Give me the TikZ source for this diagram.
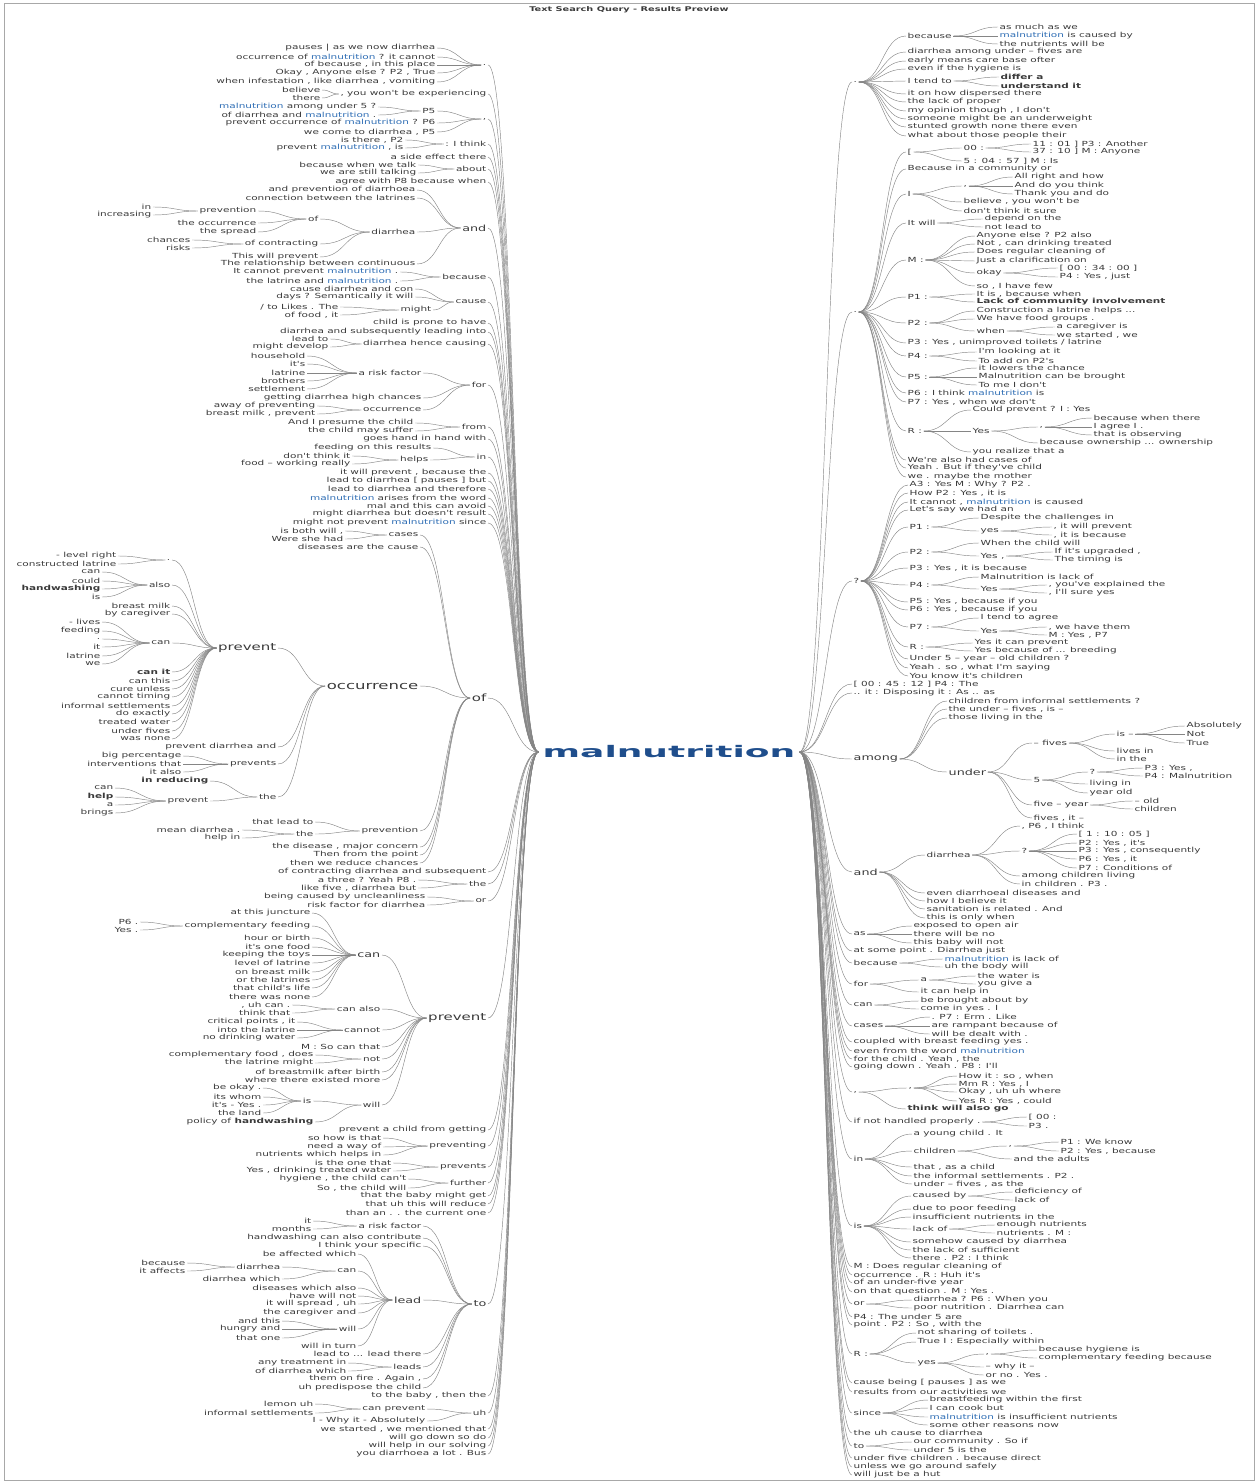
\documentclass[tikz,border=0pt]{standalone}
\usepackage{fontspec}
\setmainfont{DejaVu Sans}
\newfontfamily\treefont[FakeStretch=1.5]{DejaVu Sans}
\newfontfamily\hubfont[FakeStretch=2.25]{DejaVu Sans}
\usetikzlibrary{calc}
\definecolor{cHub}{HTML}{1F4E8C}
\definecolor{cMal}{HTML}{2E6DB4}
\definecolor{cLink}{HTML}{858585}
\definecolor{cText}{HTML}{3A3A3A}
\definecolor{cFrame}{HTML}{A8A8A8}
\newcommand\malw{\textcolor{cMal}{malnutrition}}
% children on the left of a parent: #2 parent, #3 right edge, #4 y/text list
\newcommand\kidsL[4][leaf]{%
  \foreach \yy/\txt [count=\k] in {#4}{
    \node[#1, anchor=east] (#2-l\k) at (#3,\yy) {\txt};
    \draw[twig] (#2-l\k.east) to[hc] (#2.west);
  }}
% children on the right of a parent: #2 parent, #3 left edge, #4 y/text list
\newcommand\kidsR[4][leaf]{%
  \foreach \yy/\txt [count=\k] in {#4}{
    \node[#1, anchor=west] (#2-r\k) at (#3,\yy) {\txt};
    \draw[twig] (#2.east) to[hc] (#2-r\k.west);
  }}

\begin{document}
\begin{tikzpicture}[x=1pt, y=-1pt,
  leaf/.style={font=\fontsize{7}{8}\treefont, text=cText, inner sep=1.5pt},
  midword/.style={leaf, font=\fontsize{8.5}{9}\treefont},
  bigword/.style={leaf, font=\fontsize{10}{11}\treefont},
  topword/.style={leaf, font=\fontsize{11}{12}\treefont},
  lft/.style={anchor=east},
  rgt/.style={anchor=west},
  twig/.style={draw=cLink, line width=0.45pt},
  hc/.style={to path={let \p1=(\tikztostart), \p2=(\tikztotarget),
      \n1={0.5*(\x2-\x1)} in
      .. controls (\x1+\n1,\y1) and (\x2-\n1,\y2) .. (\p2)}},
]
\useasboundingbox (0,0) rectangle (1259,1482);
\draw[cFrame, line width=0.8pt] (4,3) rectangle (1254,1480);
\node[font=\fontsize{6.5}{7}\treefont\bfseries, text=cText] (title) at (629,10)
  {Text Search Query - Results Preview};

\node[font=\fontsize{16}{18}\hubfont\bfseries, text=cHub, inner sep=4pt] (hub) at (669,752)
  {malnutrition};

% ---------- left side ----------
\node[leaf,lft] (lDot) at (488,65) {.};
\node[leaf,lft] (lWont) at (488,94) {, you won't be experiencing};
\node[leaf,lft] (lComma) at (488,119) {,};
\node[leaf,lft] (lP5) at (437,111) {P5};
\node[leaf,lft] (lThink) at (488,144) {: I think};
\node[leaf,lft] (lAbout) at (488,169) {about};
\node[midword,lft] (lAnd) at (488,228) {and};
\node[leaf,lft] (lAndDia) at (417,232) {diarrhea};
\node[leaf,lft] (lDiaOf) at (320,219) {of};
\node[leaf,lft] (lOfPrev) at (258,211) {prevention};
\node[leaf,lft] (lDiaContr) at (320,244) {of contracting};
\node[leaf,lft] (lBecause) at (488,277) {because};
\node[leaf,lft] (lCause) at (488,302) {cause};
\node[leaf,lft] (lMight) at (433,310) {might};
\node[leaf,lft] (lHence) at (488,344) {diarrhea hence causing};
\node[leaf,lft] (lFor) at (488,385) {for};
\node[leaf,lft] (lRisk) at (423,373) {a risk factor};
\node[leaf,lft] (lOccA) at (423,410) {occurrence};
\node[leaf,lft] (lFrom) at (488,427) {from};
\node[leaf,lft] (lIn) at (488,457) {in};
\node[leaf,lft] (lHelps) at (430,460) {helps};
\node[bigword,lft] (lOf) at (488,698) {of};
\node[leaf,lft] (lCases) at (420,535) {cases};
\node[topword,lft] (lOcc) at (420,686) {occurrence};
\node[bigword,lft] (lPrevA) at (278,648) {prevent};
\node[leaf,lft] (lPaDot) at (172,560) {.};
\node[leaf,lft] (lPaAlso) at (172,585) {also};
\node[leaf,lft] (lPaCan) at (172,643) {can};
\node[leaf,lft] (lPrevs) at (278,764) {prevents};
\node[leaf,lft] (lThe) at (278,797) {the};
\node[leaf,lft] (lThePrev) at (210,801) {prevent};
\node[leaf,lft] (lPrevtn) at (420,831) {prevention};
\node[leaf,lft] (lPtThe) at (315,834) {the};
\node[leaf,lft] (lThe2) at (488,884) {the};
\node[leaf,lft] (lOr) at (488,901) {or};
\node[bigword,lft] (lPrevB) at (488,1018) {prevent};
\node[midword,lft] (lPbCan) at (382,955) {can};
\node[leaf,lft] (lPbComp) at (312,926) {complementary feeding};
\node[leaf,lft] (lPbAlso) at (382,1009) {can also};
\node[leaf,lft] (lPbCannot) at (382,1030) {cannot};
\node[leaf,lft] (lPbNot) at (382,1059) {not};
\node[leaf,lft] (lPbWill) at (382,1105) {will};
\node[leaf,lft] (lPbIs) at (313,1101) {is};
\node[leaf,lft] (lPreving) at (488,1146) {preventing};
\node[leaf,lft] (lPrevsB) at (488,1167) {prevents};
\node[leaf,lft] (lFurther) at (488,1183) {further};
\node[midword,lft] (lTo) at (488,1304) {to};
\node[leaf,lft] (lToRisk) at (423,1226) {a risk factor};
\node[midword,lft] (lLead) at (423,1300) {lead};
\node[leaf,lft] (lLeadCan) at (358,1271) {can};
\node[leaf,lft] (lLcDia) at (282,1267) {diarrhea};
\node[leaf,lft] (lLeadWill) at (358,1329) {will};
\node[leaf,lft] (lLeads) at (423,1367) {leads};
\node[leaf,lft] (lUh) at (488,1413) {uh};
\node[leaf,lft] (lUhCan) at (427,1409) {can prevent};

\foreach \a/\b in {lDot/hub, lWont/hub, lComma/hub, lP5/lComma, lThink/hub,
    lAbout/hub, lAnd/hub, lAndDia/lAnd, lDiaOf/lAndDia, lOfPrev/lDiaOf,
    lDiaContr/lAndDia, lBecause/hub, lCause/hub, lMight/lCause, lHence/hub,
    lFor/hub, lRisk/lFor, lOccA/lFor, lFrom/hub, lIn/hub, lHelps/lIn,
    lOf/hub, lCases/lOf, lOcc/lOf, lPrevA/lOcc, lPaDot/lPrevA, lPaAlso/lPrevA,
    lPaCan/lPrevA, lPrevs/lOcc, lThe/lOcc, lThePrev/lThe, lPrevtn/lOf,
    lPtThe/lPrevtn, lThe2/hub, lOr/hub, lPrevB/hub, lPbCan/lPrevB,
    lPbComp/lPbCan, lPbAlso/lPrevB, lPbCannot/lPrevB, lPbNot/lPrevB,
    lPbWill/lPrevB, lPbIs/lPbWill, lPreving/hub, lPrevsB/hub, lFurther/hub,
    lTo/hub, lToRisk/lTo, lLead/lTo, lLeadCan/lLead, lLcDia/lLeadCan,
    lLeadWill/lLead, lLeads/lTo, lUh/hub, lUhCan/lUh}
  \draw[twig] (\a.east) to[hc] (\b.west);

\kidsL{lDot}{437}{48/{pauses | as we now diarrhea}, 57/{occurrence of \malw{} ? it cannot},
  65/{of because , in this place}, 73/{Okay , Anyone else ? P2 , True},
  82/{when infestation , like diarrhea , vomiting}}
\kidsL{lWont}{322}{90/believe, 98/there}
\kidsL{lComma}{437}{123/{prevent occurrence of \malw{} ? P6}, 132/{we come to diarrhea , P5}}
\kidsL{lP5}{378}{107/{\malw{} among under 5 ?}, 115/{of diarrhea and \malw{} .}}
\kidsL{lThink}{405}{140/{is there , P2}, 148/{prevent \malw{} , is}}
\kidsL{hub}{488}{157/{a side effect there}, 182/{agree with P8 because when},
  323/{child is prone to have}, 332/{diarrhea and subsequently leading into},
  439/{goes hand in hand with}, 473/{it will prevent , because the},
  481/{lead to diarrhea [ pauses ] but}, 489/{lead to diarrhea and therefore},
  498/{\malw{} arises from the word}, 506/{mal and this can avoid},
  514/{might diarrhea but doesn't result}, 523/{might not prevent \malw{} since},
  872/{of contracting diarrhea and subsequent}, 1130/{prevent a child from getting},
  1196/{that the baby might get}, 1204/{that uh this will reduce},
  1213/{than an . . the current one}, 1396/{to the baby , then the},
  1429/{we started , we mentioned that}, 1438/{will go down so do},
  1446/{will help in our solving}, 1454/{you diarrhoea a lot . Bus}}
\kidsL{lAbout}{418}{165/{because when we talk}, 173/{we are still talking}}
\kidsL{lAnd}{417}{190/{and prevention of diarrhoea}, 198/{connection between the latrines},
  264/{The relationship between continuous}}
\kidsL{lAndDia}{320}{257/{This will prevent}}
\kidsL{lDiaOf}{258}{223/{the occurrence}, 232/{the spread}}
\kidsL{lOfPrev}{153}{207/in, 215/increasing}
\kidsL{lDiaContr}{192}{240/chances, 248/risks}
\kidsL{lBecause}{400}{272/{It cannot prevent \malw{} .}, 281/{the latrine and \malw{} .}}
\kidsL{lCause}{415}{289/{cause diarrhea and con}, 297/{days ? Semantically it will}}
\kidsL{lMight}{340}{307/{/ to Likes . The}, 315/{of food , it}}
\kidsL{lHence}{330}{339/{lead to}, 347/{might develop}}
\kidsL{lFor}{423}{398/{getting diarrhea high chances}}
\kidsL{lRisk}{307}{356/household, 364/{it's}, 373/latrine, 381/brothers, 389/settlement}
\kidsL{lOccA}{317}{406/{away of preventing}, 414/{breast milk , prevent}}
\kidsL{lFrom}{415}{423/{And I presume the child}, 431/{the child may suffer}}
\kidsL{lIn}{433}{448/{feeding on this results}}
\kidsL{lHelps}{352}{456/{don't think it}, 464/{food – working really}}
\kidsL{lOf}{420}{547/{diseases are the cause}, 847/{the disease , major concern},
  855/{Then from the point}, 863/{then we reduce chances}}
\kidsL{lCases}{345}{531/{is both will ,}, 539/{Were she had}}
\kidsL{lOcc}{278}{747/{prevent diarrhea and}}
\kidsL{lPrevA}{172}{606/{breast milk}, 614/{by caregiver}, 672/{\bfseries can it},
  681/{can this}, 689/{cure unless}, 697/{cannot timing}, 706/{informal settlements},
  714/{do exactly}, 722/{treated water}, 731/{under fives}, 739/{was none}}
\kidsL{lPaDot}{118}{556/{- level right}, 564/{constructed latrine}}
\kidsL{lPaAlso}{102}{572/can, 581/could, 589/{\bfseries handwashing}, 597/is}
\kidsL{lPaCan}{102}{622/{- lives}, 631/feeding, 639/{.}, 647/it, 656/latrine, 664/we}
\kidsL{lPrevs}{183}{756/{big percentage}, 764/{interventions that}, 772/{it also}}
\kidsL{lThe}{210}{781/{\bfseries in reducing}}
\kidsL{lThePrev}{115}{788/can, 797/{\bfseries help}, 805/a, 813/brings}
\kidsL{lPrevtn}{315}{822/{that lead to}}
\kidsL{lPtThe}{242}{830/{mean diarrhea .}, 838/{help in}}
\kidsL{lThe2}{418}{880/{a three ? Yeah P8 .}, 888/{like five , diarrhea but}}
\kidsL{lOr}{427}{897/{being caused by uncleanliness}, 905/{risk factor for diarrhea}}
\kidsL{lPrevB}{382}{1047/{M : So can that}, 1072/{of breastmilk after birth},
  1080/{where there existed more}}
\kidsL{lPbCan}{312}{913/{at this juncture}, 938/{hour or birth}, 947/{it's one food},
  955/{keeping the toys}, 963/{level of latrine}, 972/{on breast milk},
  980/{or the latrines}, 988/{that child's life}, 997/{there was none}}
\kidsL{lPbComp}{140}{922/{P6 .}, 930/{Yes .}}
\kidsL{lPbAlso}{292}{1005/{, uh can .}, 1013/{think that}}
\kidsL{lPbCannot}{297}{1022/{critical points , it}, 1030/{into the latrine}, 1038/{no drinking water}}
\kidsL{lPbNot}{315}{1055/{complementary food , does}, 1063/{the latrine might}}
\kidsL{lPbWill}{315}{1122/{policy of \textbf{handwashing}}}
\kidsL{lPbIs}{263}{1088/{be okay .}, 1097/{its whom}, 1105/{it's - Yes .}, 1113/{the land}}
\kidsL{lPreving}{383}{1138/{so how is that}, 1147/{need a way of}, 1155/{nutrients which helps in}}
\kidsL{lPrevsB}{393}{1163/{is the one that}, 1171/{Yes , drinking treated water}}
\kidsL{lFurther}{408}{1179/{hygiene , the child can't}, 1188/{So , the child will}}
\kidsL{lTo}{423}{1238/{handwashing can also contribute}, 1246/{I think your specific},
  1354/{lead to ... lead there}, 1379/{them on fire . Again ,}, 1388/{uh predispose the child}}
\kidsL{lToRisk}{313}{1221/it, 1229/months}
\kidsL{lLead}{358}{1254/{be affected which}, 1288/{diseases which also}, 1296/{have will not},
  1304/{it will spread , uh}, 1313/{the caregiver and}, 1346/{will in turn}}
\kidsL{lLeadCan}{282}{1279/{diarrhea which}}
\kidsL{lLcDia}{187}{1263/because, 1271/{it affects}}
\kidsL{lLeadWill}{282}{1321/{and this}, 1329/{hungry and}, 1338/{that one}}
\kidsL{lLeads}{348}{1363/{any treatment in}, 1371/{of diarrhea which}}
\kidsL{lUh}{427}{1421/{I - Why it - Absolutely}}
\kidsL{lUhCan}{315}{1404/{lemon uh}, 1413/{informal settlements}}

% ---------- right side ----------
\node[leaf,rgt] (rDotA) at (852,82) {.};
\node[leaf,rgt] (rBec) at (906,36) {because};
\node[leaf,rgt] (rTend) at (906,81) {I tend to};
\node[leaf,rgt] (rDotB) at (852,312) {.};
\node[leaf,rgt] (rBrk) at (906,152) {[};
\node[leaf,rgt] (rBrk00) at (962,148) {00 :};
\node[leaf,rgt] (rI) at (906,194) {I};
\node[leaf,rgt] (rIc) at (962,186) {,};
\node[leaf,rgt] (rWill) at (906,223) {It will};
\node[leaf,rgt] (rM) at (906,260) {M :};
\node[leaf,rgt] (rMok) at (975,273) {okay};
\node[leaf,rgt] (rP1) at (906,297) {P1 :};
\node[leaf,rgt] (rP2) at (906,323) {P2 :};
\node[leaf,rgt] (rP2when) at (975,331) {when};
\node[leaf,rgt] (rP4) at (906,356) {P4 :};
\node[leaf,rgt] (rP5) at (906,377) {P5 :};
\node[leaf,rgt] (rR) at (906,431) {R :};
\node[leaf,rgt] (rRyes) at (971,431) {Yes};
\node[leaf,rgt] (rRyc) at (1038,427) {,};
\node[leaf,rgt] (rQ) at (852,581) {?};
\node[leaf,rgt] (rQp1) at (908,527) {P1 :};
\node[leaf,rgt] (rQp1y) at (979,531) {yes};
\node[leaf,rgt] (rQp2) at (908,552) {P2 :};
\node[leaf,rgt] (rQp2y) at (979,556) {Yes ,};
\node[leaf,rgt] (rQp4) at (908,585) {P4 :};
\node[leaf,rgt] (rQp4y) at (979,589) {Yes};
\node[leaf,rgt] (rQp7) at (908,627) {P7 :};
\node[leaf,rgt] (rQp7y) at (979,631) {Yes};
\node[leaf,rgt] (rQr) at (908,647) {R :};
\node[midword,rgt] (rAmong) at (852,759) {among};
\node[midword,rgt] (rUnder) at (947,772) {under};
\node[leaf,rgt] (rFives) at (1032,743) {– fives};
\node[leaf,rgt] (rFivesIs) at (1115,734) {is –};
\node[leaf,rgt] (rFive) at (1032,780) {5};
\node[leaf,rgt] (rFiveQ) at (1088,772) {?};
\node[leaf,rgt] (rFiveYr) at (1032,805) {five – year};
\node[midword,rgt] (rAnd) at (852,872) {and};
\node[leaf,rgt] (rAndDia) at (925,855) {diarrhea};
\node[leaf,rgt] (rAdQ) at (1020,851) {?};
\node[leaf,rgt] (rAs) at (852,934) {as};
\node[leaf,rgt] (rBecause) at (852,963) {because};
\node[leaf,rgt] (rFor) at (852,984) {for};
\node[leaf,rgt] (rForA) at (919,980) {a};
\node[leaf,rgt] (rCan) at (852,1005) {can};
\node[leaf,rgt] (rCases) at (852,1026) {cases};
\node[leaf,rgt] (rComma) at (852,1092) {,};
\node[leaf,rgt] (rCc) at (907,1088) {,};
\node[leaf,rgt] (rIfNot) at (852,1122) {if not handled properly .};
\node[leaf,rgt] (rIn) at (852,1159) {in};
\node[leaf,rgt] (rChildren) at (912,1151) {children};
\node[leaf,rgt] (rChc) at (1007,1146) {,};
\node[leaf,rgt] (rIs) at (852,1226) {is};
\node[leaf,rgt] (rCausedBy) at (911,1196) {caused by};
\node[leaf,rgt] (rLackOf) at (911,1229) {lack of};
\node[leaf,rgt] (rOr) at (852,1304) {or};
\node[leaf,rgt] (rRb) at (852,1354) {R :};
\node[leaf,rgt] (rRbYes) at (916,1363) {yes};
\node[leaf,rgt] (rRbc) at (984,1354) {,};
\node[leaf,rgt] (rSince) at (852,1413) {since};
\node[leaf,rgt] (rTo) at (852,1446) {to};

\foreach \a/\b in {hub/rDotA, rDotA/rBec, rDotA/rTend, hub/rDotB, rDotB/rBrk,
    rBrk/rBrk00, rDotB/rI, rI/rIc, rDotB/rWill, rDotB/rM, rM/rMok, rDotB/rP1,
    rDotB/rP2, rP2/rP2when, rDotB/rP4, rDotB/rP5, rDotB/rR, rR/rRyes,
    rRyes/rRyc, hub/rQ, rQ/rQp1, rQp1/rQp1y, rQ/rQp2, rQp2/rQp2y, rQ/rQp4,
    rQp4/rQp4y, rQ/rQp7, rQp7/rQp7y, rQ/rQr, hub/rAmong, rAmong/rUnder,
    rUnder/rFives, rFives/rFivesIs, rUnder/rFive, rFive/rFiveQ, rUnder/rFiveYr,
    hub/rAnd, rAnd/rAndDia, rAndDia/rAdQ, hub/rAs, hub/rBecause, hub/rFor,
    rFor/rForA, hub/rCan, hub/rCases, hub/rComma, rComma/rCc, hub/rIfNot,
    hub/rIn, rIn/rChildren, rChildren/rChc, hub/rIs, rIs/rCausedBy,
    rIs/rLackOf, hub/rOr, hub/rRb, rRb/rRbYes, rRbYes/rRbc, hub/rSince, hub/rTo}
  \draw[twig] (\a.east) to[hc] (\b.west);

\kidsR{rBec}{998}{27/{as much as we}, 36/{\malw{} is caused by}, 44/{the nutrients will be}}
\kidsR{rDotA}{906}{52/{diarrhea among under – fives are}, 61/{early means care base ofter},
  69/{even if the hygiene is}, 94/{it on how dispersed there}, 102/{the lack of proper},
  111/{my opinion though , I don't}, 119/{someone might be an underweight},
  127/{stunted growth none there even}, 136/{what about those people their}}
\kidsR{rTend}{999}{77/{\bfseries differ a}, 86/{\bfseries understand it}}
\kidsR{rDotB}{906}{169/{Because in a community or}, 343/{P3 : Yes , unimproved toilets / latrine},
  393/{P6 : I think \malw{} is}, 402/{P7 : Yes , when we don't},
  460/{We're also had cases of}, 468/{Yeah . But if they've child}, 477/{we . maybe the mother}}
\kidsR{rBrk}{962}{161/{5 : 04 : 57 ] M : Is}}
\kidsR{rBrk00}{1031}{144/{11 : 01 ] P3 : Another}, 152/{37 : 10 ] M : Anyone}}
\kidsR{rI}{962}{202/{believe , you won't be}, 211/{don't think it sure}}
\kidsR{rIc}{1013}{177/{All right and how}, 186/{And do you think}, 194/{Thank you and do}}
\kidsR{rWill}{983}{219/{depend on the}, 227/{not lead to}}
\kidsR{rM}{975}{236/{Anyone else ? P2 also}, 244/{Not , can drinking treated},
  252/{Does regular cleaning of}, 261/{Just a clarification on}, 286/{so , I have few}}
\kidsR{rMok}{1058}{268/{[ 00 : 34 : 00 ]}, 277/{P4 : Yes , just}}
\kidsR{rP1}{975}{294/{It is , because when}, 302/{\bfseries Lack of community involvement}}
\kidsR{rP2}{975}{311/{Construction a latrine helps ...}, 319/{We have food groups .}}
\kidsR{rP2when}{1055}{327/{a caregiver is}, 335/{we started , we}}
\kidsR{rP4}{977}{352/{I'm looking at it}, 361/{To add on P2's}}
\kidsR{rP5}{977}{368/{it lowers the chance}, 377/{Malnutrition can be brought}, 385/{To me I don't}}
\kidsR{rR}{971}{410/{Could prevent ? I : Yes}, 452/{you realize that a}}
\kidsR{rRyes}{1038}{443/{because ownership ... ownership}}
\kidsR{rRyc}{1092}{418/{because when there}, 427/{I agree I .}, 435/{that is observing}}
\kidsR{rQ}{908}{485/{A3 : Yes M : Why ? P2 .}, 493/{How P2 : Yes , it is},
  502/{It cannot , \malw{} is caused}, 510/{Let's say we had an},
  568/{P3 : Yes , it is because}, 602/{P5 : Yes , because if you},
  610/{P6 : Yes , because if you}, 659/{Under 5 – year – old children ?},
  668/{Yeah . so , what I'm saying}, 676/{You know it's children}}
\kidsR{rQp1}{979}{518/{Despite the challenges in}}
\kidsR{rQp1y}{1052}{527/{, it will prevent}, 535/{, it is because}}
\kidsR{rQp2}{979}{543/{When the child will}}
\kidsR{rQp2y}{1053}{552/{If it's upgraded ,}, 560/{The timing is}}
\kidsR{rQp4}{979}{577/{Malnutrition is lack of}}
\kidsR{rQp4y}{1047}{585/{, you've explained the}, 593/{, I'll sure yes}}
\kidsR{rQp7}{979}{618/{I tend to agree}}
\kidsR{rQp7y}{1047}{627/{, we have them}, 635/{M : Yes , P7}}
\kidsR{rQr}{973}{643/{Yes it can prevent}, 651/{Yes because of ... breeding}}
\kidsR{hub}{852}{684/{[ 00 : 45 : 12 ] P4 : The}, 693/{.. it : Disposing it : As .. as},
  951/{at some point . Diarrhea just}, 1042/{coupled with breast feeding yes .},
  1051/{even from the word \malw}, 1059/{for the child . Yeah , the},
  1067/{going down . Yeah . P8 : I'll}, 1267/{M : Does regular cleaning of},
  1275/{occurrence . R : Huh it's}, 1283/{of an under-five year},
  1292/{on that question . M : Yes .}, 1317/{P4 : The under 5 are},
  1325/{point . P2 : So , with the}, 1383/{cause being [ pauses ] as we},
  1392/{results from our activities we}, 1433/{the uh cause to diarrhea},
  1458/{under five children . because direct}, 1467/{unless we go around safely},
  1475/{will just be a hut}}
\kidsR{rAmong}{947}{701/{children from informal settlements ?}, 709/{the under – fives , is –},
  718/{those living in the}}
\kidsR{rUnder}{1032}{818/{fives , it –}}
\kidsR{rFives}{1115}{751/{lives in}, 759/{in the}}
\kidsR{rFivesIs}{1185}{726/Absolutely, 734/Not, 743/True}
\kidsR{rFive}{1088}{784/{living in}, 793/{year old}}
\kidsR{rFiveQ}{1143}{768/{P3 : Yes ,}, 776/{P4 : Malnutrition}}
\kidsR{rFiveYr}{1133}{801/{– old}, 809/children}
\kidsR{rAnd}{925}{893/{even diarrhoeal diseases and}, 901/{how I believe it},
  909/{sanitation is related . And}, 918/{this is only when}}
\kidsR{rAndDia}{1020}{826/{, P6 , I think}, 876/{among children living}, 884/{in children . P3 .}}
\kidsR{rAdQ}{1077}{834/{[ 1 : 10 : 05 ]}, 843/{P2 : Yes , it's}, 851/{P3 : Yes , consequently},
  859/{P6 : Yes , it}, 868/{P7 : Conditions of}}
\kidsR{rAs}{912}{926/{exposed to open air}, 934/{there will be no}, 943/{this baby will not}}
\kidsR{rBecause}{943}{959/{\malw{} is lack of}, 967/{uh the body will}}
\kidsR{rFor}{919}{992/{it can help in}}
\kidsR{rForA}{976}{976/{the water is}, 984/{you give a}}
\kidsR{rCan}{919}{1001/{be brought about by}, 1009/{come in yes . I}}
\kidsR{rCases}{930}{1017/{. P7 : Erm . Like}, 1026/{are rampant because of}, 1034/{will be dealt with .}}
\kidsR{rComma}{906}{1109/{\bfseries think will also go}}
\kidsR{rCc}{957}{1076/{How it : so , when}, 1084/{Mm R : Yes , I}, 1092/{Okay , uh uh where},
  1101/{Yes R : Yes , could}}
\kidsR{rIfNot}{1027}{1117/{[ 00 :}, 1126/{P3 .}}
\kidsR{rIn}{912}{1134/{a young child . It}, 1167/{that , as a child},
  1176/{the informal settlements . P2 .}, 1184/{under – fives , as the}}
\kidsR{rChildren}{1012}{1159/{and the adults}}
\kidsR{rChc}{1059}{1142/{P1 : We know}, 1151/{P2 : Yes , because}}
\kidsR{rIs}{911}{1209/{due to poor feeding}, 1217/{insufficient nutrients in the},
  1242/{somehow caused by diarrhea}, 1250/{the lack of sufficient}, 1258/{there . P2 : I think}}
\kidsR{rCausedBy}{1013}{1192/{deficiency of}, 1200/{lack of}}
\kidsR{rLackOf}{995}{1225/{enough nutrients}, 1233/{nutrients . M :}}
\kidsR{rOr}{912}{1300/{diarrhea ? P6 : When you}, 1308/{poor nutrition . Diarrhea can}}
\kidsR{rRb}{916}{1333/{not sharing of toilets .}, 1342/{True I : Especially within}}
\kidsR{rRbYes}{984}{1367/{– why it –}, 1375/{or no . Yes .}}
\kidsR{rRbc}{1037}{1350/{because hygiene is}, 1358/{complementary feeding because}}
\kidsR{rSince}{928}{1400/{breastfeeding within the first}, 1408/{I can cook but},
  1417/{\malw{} is insufficient nutrients}, 1425/{some other reasons now}}
\kidsR{rTo}{912}{1442/{our community . So if}, 1450/{under 5 is the}}
\end{tikzpicture}
\end{document}
